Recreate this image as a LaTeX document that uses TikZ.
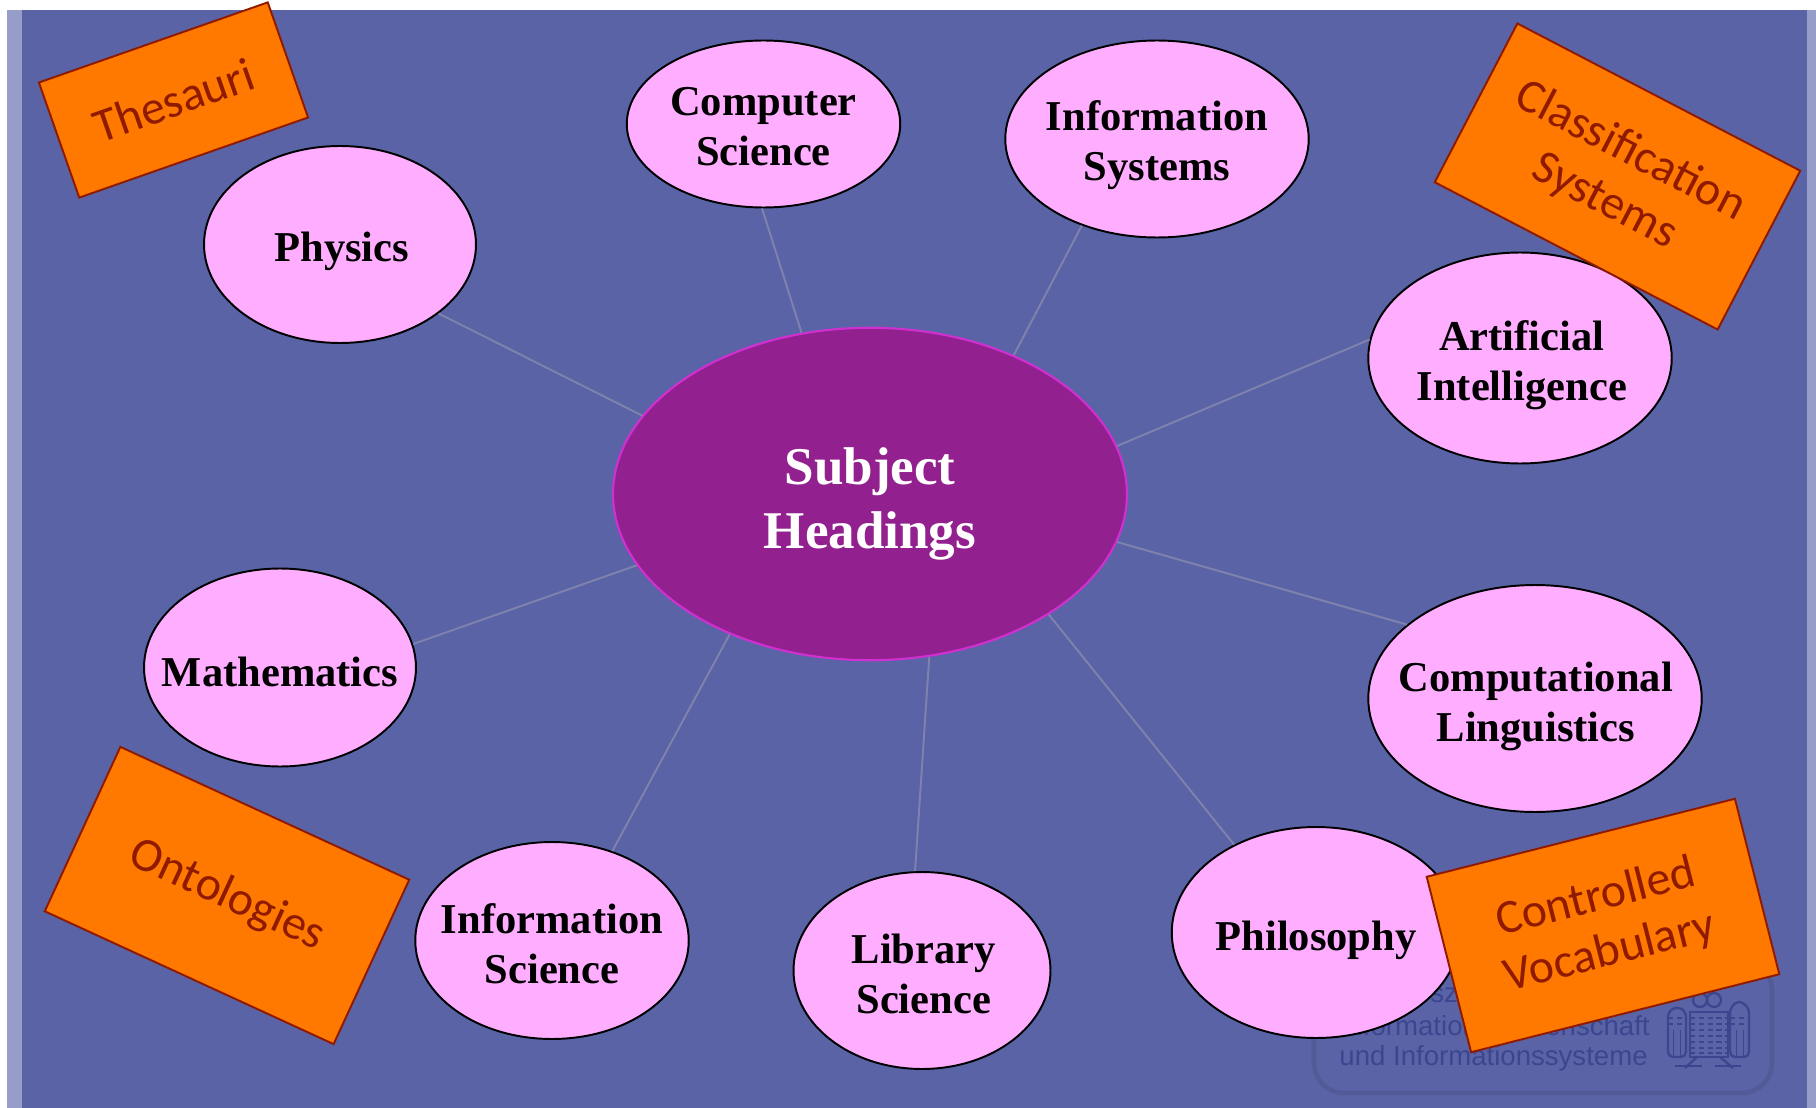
\documentclass[tikz,border=0pt]{standalone}
\usepackage{fontspec}
\setmainfont{Liberation Serif}
\newfontfamily\tagfont{Carlito}
\newfontfamily\markfont{Liberation Sans}
\usetikzlibrary{shapes.geometric}

\definecolor{slide}{HTML}{5A63A6}
\definecolor{slideband}{HTML}{959DC8}
\definecolor{hubfill}{HTML}{93208F}
\definecolor{hubline}{HTML}{D030D0}
\definecolor{bubblefill}{HTML}{FFADFF}
\definecolor{tagfill}{HTML}{FF7900}
\definecolor{tagtext}{HTML}{8F1A00}
\definecolor{spoke}{HTML}{7F82AC}
\definecolor{markline}{HTML}{535A98}
\definecolor{marktext}{HTML}{3C468F}

\tikzset{
  hub/.style={ellipse, draw=hubline, line width=1.2pt, fill=hubfill, inner sep=0pt},
  hubtext/.style={text=white, inner sep=0pt, align=center, font=\fontsize{30.2}{36.5}\selectfont\bfseries},
  bubble/.style={ellipse, draw=black, line width=1.1pt, fill=bubblefill, inner sep=0pt},
  bubbletext/.style={text=black, inner sep=0pt, align=center, font=\fontsize{24.2}{28.5}\selectfont\bfseries},
  tagbox/.style={rectangle, draw=tagtext, line width=1.1pt, fill=tagfill, text=tagtext, inner sep=0pt,
    align=center, font=\tagfont\fontsize{27.2}{32}\selectfont},
  link/.style={draw=spoke, line width=1.1pt},
  marktxt/.style={text=marktext, inner sep=0pt, font=\markfont\fontsize{15.7}{15.7}\selectfont},
}

\begin{document}
\begin{tikzpicture}[x=0.02cm, y=-0.02cm]
\useasboundingbox (0,0) rectangle (1816,1108);

% slide
\fill[white] (0,0) rectangle (1816,1108);
\fill[slide] (7,10) rectangle (1816,1108);
\fill[slideband] (7,10) rectangle (22,1108);
\fill[slideband] (1807,10) rectangle (1816,1108);

% watermark
\draw[markline, line width=2.6pt, rounded corners=0.6cm] (1314,960) rectangle (1772,1093);
\node[marktxt, anchor=base west] (markone) at (1430,1002) {sz};
\node[marktxt, anchor=base east] (marktwo) at (1650,1035) {Informationswissenschaft};
\node[marktxt, anchor=base east] (markthree) at (1648,1065) {und Informationssysteme};
\begin{scope}[marktext, line width=1.3pt]
\draw[rounded corners=0.1cm] (1668,1057) -- (1668,1012) -- (1677,1006) -- (1686,1012) -- (1686,1057) -- cycle;
\draw[rounded corners=0.1cm] (1730,1057) -- (1730,1008) -- (1739,1000) -- (1749,1008) -- (1749,1057) -- cycle;
\draw (1690,1012) rectangle (1728,1057);
\foreach \y in {1018,1024,1030,1036,1042,1048,1053} \draw[densely dashed] (1690,\y) -- (1728,\y);
\foreach \y in {1018,1024} {\draw[densely dashed] (1668,\y) -- (1686,\y); \draw[densely dashed] (1730,\y) -- (1749,\y);}
\foreach \x in {1673,1680,1736,1743} \draw[thin] (\x,1030) -- (\x,1056);
\draw (1700,1000) circle (0.14cm);
\draw (1714,1000) circle (0.14cm);
\draw (1697,1057) -- (1685,1068);
\draw (1720,1057) -- (1733,1068);
\draw (1675,1066) -- (1702,1066);
\draw (1715,1066) -- (1741,1066);
\end{scope}

% hub and bubbles
\node[hub, minimum width=10.28cm, minimum height=6.65cm, label={[hubtext, yshift=-5.5pt]center:{Subject\\Headings}}] (subject) at (870,494) {};
\node[bubble, minimum width=5.44cm, minimum height=3.94cm, label={[bubbletext, yshift=-4pt, xshift=1pt]center:{Physics}}] (physics) at (340,244.5) {};
\node[bubble, minimum width=5.47cm, minimum height=3.34cm, label={[bubbletext, yshift=-1.5pt]center:{Computer\\Science}}] (compsci) at (763.5,124) {};
\node[bubble, minimum width=6.07cm, minimum height=3.94cm, label={[bubbletext, yshift=-3.5pt]center:{Information\\Systems}}] (infosys) at (1157,139) {};
\node[bubble, minimum width=6.07cm, minimum height=4.22cm, label={[bubbletext, yshift=-4pt, xshift=1pt]center:{Artificial\\Intelligence}}] (artint) at (1520,358) {};
\node[bubble, minimum width=6.67cm, minimum height=4.54cm, label={[bubbletext, yshift=-4.5pt, xshift=0.5pt]center:{Computational\\Linguistics}}] (complin) at (1535,698.5) {};
\node[bubble, minimum width=5.77cm, minimum height=4.22cm, label={[bubbletext, yshift=-4.5pt]center:{Philosophy}}] (philo) at (1316,932.5) {};
\node[bubble, minimum width=5.14cm, minimum height=3.94cm, label={[bubbletext, yshift=-2pt, xshift=1pt]center:{Library\\Science}}] (libsci) at (922,970.5) {};
\node[bubble, minimum width=5.47cm, minimum height=3.94cm, label={[bubbletext, yshift=-2pt]center:{Information\\Science}}] (infosci) at (552,940.5) {};
\node[bubble, minimum width=5.44cm, minimum height=3.96cm, label={[bubbletext, yshift=-2.5pt]center:{Mathematics}}] (maths) at (280,667.5) {};

% spokes
\draw[link] (subject.161.4) -- (physics.-35.8);
\draw[link] (subject.113.9) -- (compsci.269);
\draw[link] (subject.44.8) -- (infosys.229);
\draw[link] (subject.11) -- (artint.173);
\draw[link] (subject.-11.5) -- (complin.150);
\draw[link] (subject.-34.3) -- (philo.133.5);
\draw[link] (subject.-70.4) -- (libsci.94);
\draw[link] (subject.225.2) -- (infosci.56);
\draw[link] (subject.197.4) -- (maths.10);

% tags
\node[tagbox, minimum width=4.85cm, minimum height=2.44cm, rotate=19.3] (thesauri) at (173.5,100) {Thesauri};
\node[tagbox, minimum width=6.38cm, minimum height=3.58cm, rotate=-27.5] (classif) at (1617.5,176.5) {Classification\\Systems};
\node[tagbox, minimum width=6.36cm, minimum height=3.62cm, rotate=-24.7] (onto) at (227,895.5) {Ontologies};
\node[tagbox, minimum width=6.36cm, minimum height=3.62cm, rotate=14.2] (vocab) at (1603,925.5) {Controlled\\Vocabulary};

\end{tikzpicture}
\end{document}
